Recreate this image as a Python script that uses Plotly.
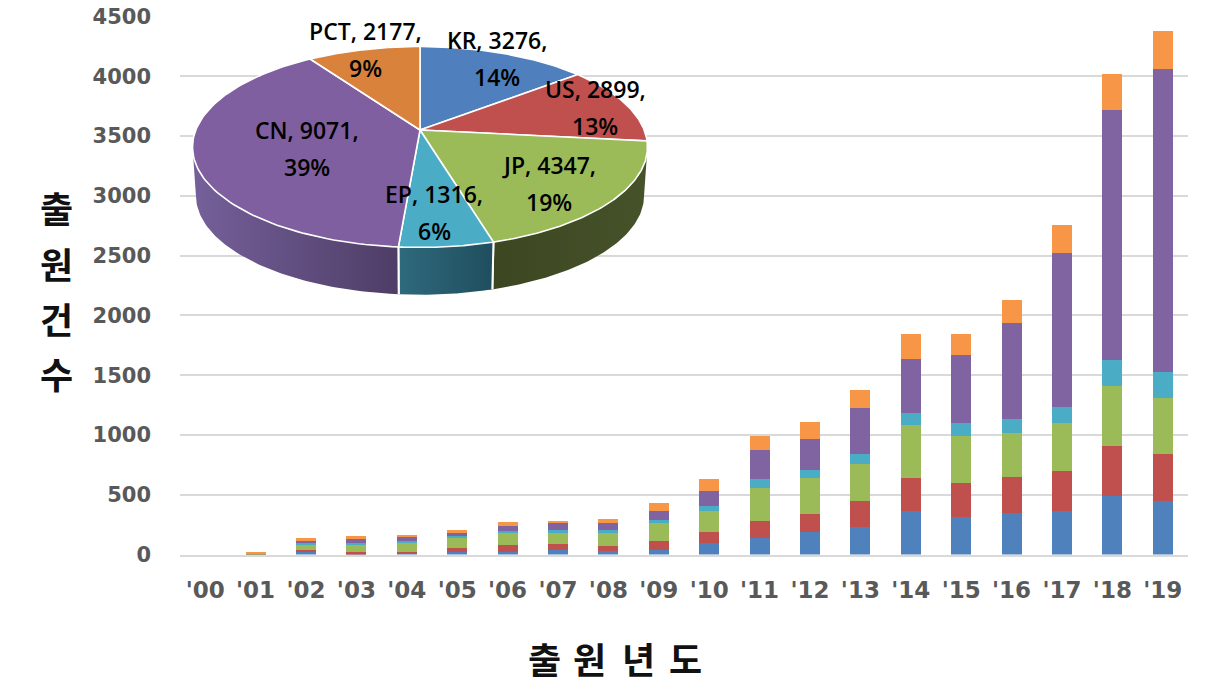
import numpy as np
import plotly.graph_objects as go

years = ["'00","'01","'02","'03","'04","'05","'06","'07","'08","'09",
         "'10","'11","'12","'13","'14","'15","'16","'17","'18","'19"]
kr  = [0,3,20,8,10,20,25,36,28,36,95,142,190,231,365,315,351,365,490,449]
us  = [0,3,17,12,10,33,53,50,42,75,95,142,150,217,276,284,298,334,418,393]
jp  = [0,5,42,59,75,84,98,92,109,150,178,273,301,309,443,393,368,401,502,468]
ep  = [0,2,17,17,17,17,20,25,25,25,39,75,67,84,100,109,117,134,217,217]
cn  = [0,3,17,33,33,25,42,59,59,75,125,242,259,385,451,569,803,1288,2090,2533]
pct = [0,4,25,25,17,25,33,17,33,67,100,117,142,150,209,176,188,234,301,317]

pie_names  = ["KR","US","JP","EP","CN","PCT"]
pie_values = [3276,2899,4347,1316,9071,2177]
pie_shares = ["14%","13%","19%","6%","39%","9%"]

bar_colors  = ["#4f81bd","#c0504d","#9bbb59","#4bacc6","#8064a2","#f79646"]
pie_colors  = ["#4f7fbd","#c0504d","#9bbb59","#4bacc6","#7f5f9f","#d8823c"]
wall_colors = {"JP":("#3c4721","#46522a"),"EP":("#2f6a7d","#1f4e5e"),"CN":("#75609a","#4e3d66")}

W, H = 1212, 687
CX, CY, A, B, K, DEPTH, SHRINK = 420, 130.0, 97.6, 224.2, 0.169, 49.0, 0.985
LABEL_POS = {"KR":(497,40),"US":(595,89),"JP":(549,165),"EP":(434,194),"CN":(307,130),"PCT":(365,31)}
LINE_GAP = 37
Y_TITLE = ["출","원","건","수"]
X_TITLE = ["출","원","년","도"]
Y_TITLE_Y = [207,263,318,373]
X_TITLE_X = [544,589,638,685]
TICK_FONT = dict(family="DejaVu Sans", size=21, color="#595959", weight=700)
XTICK_FONT = dict(family="DejaVu Sans", size=23, color="#595959", weight=700)
LABEL_FONT = dict(family="Open Sans", size=23, color="#000000", weight=600)
TITLE_FONT = dict(family="Noto Sans CJK KR", size=36, color="#111111", weight=700)

def project(theta, dy=0.0, s=1.0):
    u, v = np.sin(theta), np.cos(theta)
    d = 1 + K * v
    return CX + s * B * u / d, CY + dy - s * A * v / d

fig = go.Figure()
for name, vals, col in zip(pie_names, [kr,us,jp,ep,cn,pct], bar_colors):
    fig.add_trace(go.Bar(x=years, y=vals, name=name, marker=dict(color=col, line_width=0), xaxis="x", yaxis="y"))

edges = np.cumsum([0] + pie_values) / sum(pie_values) * 2 * np.pi
th_r = np.arccos(-K)
th_l = 2 * np.pi - th_r

# side walls
for i, name in enumerate(pie_names):
    lo, hi = max(edges[i], th_r), min(edges[i+1], th_l)
    if hi <= lo:
        continue
    t = np.linspace(lo, hi, 80)
    x1, y1 = project(t)
    x2, y2 = project(t[::-1], DEPTH, SHRINK)
    c1, c2 = wall_colors[name]
    fig.add_trace(go.Scatter(
        x=np.r_[x1, x2, x1[0]], y=np.r_[y1, y2, y1[0]], mode="lines", fill="toself",
        line=dict(color="rgba(0,0,0,0)", width=0),
        fillgradient=dict(type="horizontal", colorscale=[[0, c1],[1, c2]]),
        xaxis="x2", yaxis="y2", hoverinfo="skip"))
    for edge in (edges[i], edges[i+1]):
        if th_r < edge < th_l:
            xa, ya = project(np.array([edge]))
            xb, yb = project(np.array([edge]), DEPTH, SHRINK)
            fig.add_trace(go.Scatter(x=[xa[0], xb[0]], y=[ya[0], yb[0]], mode="lines",
                                     line=dict(color="#ffffff", width=2),
                                     xaxis="x2", yaxis="y2", hoverinfo="skip"))

# top surface
for i, name in enumerate(pie_names):
    t = np.linspace(edges[i], edges[i+1], 100)
    xs, ys = project(t)
    fig.add_trace(go.Scatter(
        x=np.r_[CX, xs, CX], y=np.r_[CY, ys, CY], mode="lines", fill="toself",
        fillcolor=pie_colors[i], line=dict(color="#ffffff", width=1.6),
        xaxis="x2", yaxis="y2", hoverinfo="skip"))

ann = []
for name, val, share in zip(pie_names, pie_values, pie_shares):
    px, py = LABEL_POS[name]
    ann.append(dict(x=px, y=py, xref="x2", yref="y2", text=f"{name}, {val},", showarrow=False, font=LABEL_FONT))
    ann.append(dict(x=px, y=py+LINE_GAP, xref="x2", yref="y2", text=share, showarrow=False, font=LABEL_FONT))
for ch, py in zip(Y_TITLE, Y_TITLE_Y):
    ann.append(dict(x=56, y=py, xref="x2", yref="y2", text=ch, showarrow=False, font=TITLE_FONT))
for ch, px in zip(X_TITLE, X_TITLE_X):
    ann.append(dict(x=px, y=658, xref="x2", yref="y2", text=ch, showarrow=False, font=TITLE_FONT))

fig.update_layout(
    width=W, height=H, margin=dict(l=0,r=0,t=0,b=0), barmode="stack", bargap=0.6,
    showlegend=False, paper_bgcolor="#ffffff", plot_bgcolor="rgba(0,0,0,0)", annotations=ann,
    xaxis=dict(domain=[180/W, 1188/W], type="category", showgrid=False, showline=True, automargin=False,
               linecolor="#d9d9d9", linewidth=2, ticks="", tickfont=XTICK_FONT, ticklabelstandoff=14,
               anchor="y", tickangle=0),
    yaxis=dict(domain=[(H-554.5)/H, (H-16.5)/H], range=[0,4500], dtick=500, showgrid=True, automargin=False,
               gridcolor="#d9d9d9", gridwidth=2, zeroline=False, ticks="", tickfont=TICK_FONT,
               ticklabelstandoff=28, anchor="x", tickformat="d"),
    xaxis2=dict(domain=[0,1], range=[0,W], visible=False, anchor="y2", automargin=False),
    yaxis2=dict(domain=[0,1], range=[H,0], visible=False, anchor="x2", automargin=False),
)
fig.write_html("out.html", config=dict(displayModeBar=False),
               post_script="document.body.style.margin='0';document.body.style.overflow='hidden';")
